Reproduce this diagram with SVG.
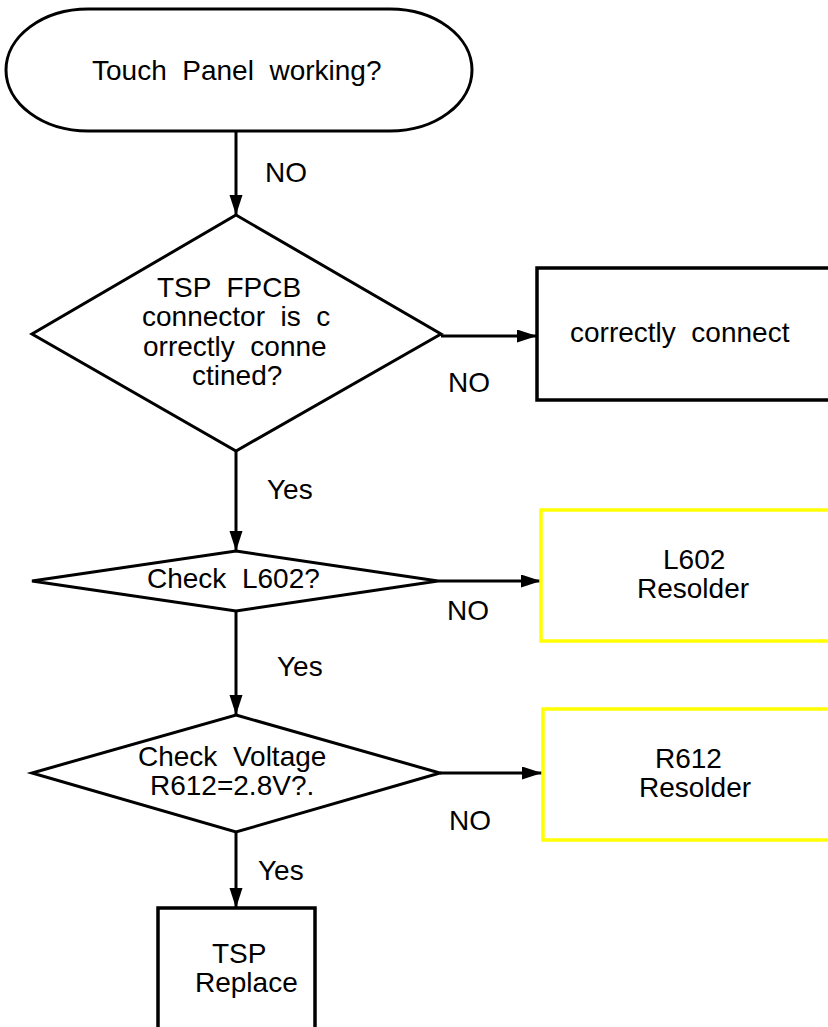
<svg xmlns="http://www.w3.org/2000/svg" width="828" height="1027" viewBox="0 0 828 1027">
<style>
  text { font-family: "Liberation Sans", Arial, sans-serif; font-size: 28px; fill: #000; white-space: pre; }
  .shape { fill: #fff; stroke: #000; stroke-width: 3; }
  .box { fill: #fff; stroke: #000; stroke-width: 3.5; }
  .ybox { fill: #fff; stroke: #ffff00; stroke-width: 3.5; }
  .conn { fill: none; stroke: #000; stroke-width: 3; marker-end: url(#arrow); }
</style>
<defs>
  <marker id="arrow" markerUnits="userSpaceOnUse" markerWidth="20" markerHeight="14" refX="20" refY="6.5" orient="auto">
    <path d="M0,0 L20,6.5 L0,13 z" fill="#000"/>
  </marker>
</defs>
<rect width="828" height="1027" fill="#fff"/>

<g id="connectors">
  <line class="conn" x1="236" y1="131" x2="236" y2="215"/>
  <line class="conn" x1="441" y1="336" x2="537" y2="336"/>
  <line class="conn" x1="236" y1="451" x2="236" y2="551"/>
  <line class="conn" x1="438" y1="581" x2="541" y2="581"/>
  <line class="conn" x1="236" y1="611" x2="236" y2="715"/>
  <line class="conn" x1="440" y1="773" x2="542" y2="773"/>
  <line class="conn" x1="236" y1="832" x2="236" y2="908"/>
  <text x="265" y="182" xml:space="preserve">NO</text>
  <text x="448" y="392" xml:space="preserve">NO</text>
  <text x="267" y="499" xml:space="preserve">Yes</text>
  <text x="447" y="620" xml:space="preserve">NO</text>
  <text x="277" y="676" xml:space="preserve">Yes</text>
  <text x="449" y="830" xml:space="preserve">NO</text>
  <text x="258" y="880" xml:space="preserve">Yes</text>
</g>

<g id="start">
  <rect class="shape" x="6" y="9" width="466" height="122" rx="82" ry="61"/>
  <text x="92" y="80" xml:space="preserve">Touch  Panel  working?</text>
</g>

<g id="check-connector">
  <polygon class="shape" points="236,215 441,334 236,451 32,334"/>
  <text x="157" y="297" xml:space="preserve">TSP  FPCB</text>
  <text x="142" y="326" xml:space="preserve">connector  is  c</text>
  <text x="143" y="356" xml:space="preserve">orrectly  conne</text>
  <text x="192" y="385" xml:space="preserve">ctined?</text>
</g>

<g id="correctly-connect">
  <rect class="box" x="537" y="268" width="320" height="132"/>
  <text x="570" y="342" xml:space="preserve">correctly  connect</text>
</g>

<g id="check-l602">
  <polygon class="shape" points="236,551 438,581 236,611 32,581"/>
  <text x="147" y="588" xml:space="preserve">Check  L602?</text>
</g>

<g id="l602-resolder">
  <rect class="ybox" x="541" y="510" width="320" height="131"/>
  <text x="663" y="569" xml:space="preserve">L602</text>
  <text x="637" y="598" xml:space="preserve">Resolder</text>
</g>

<g id="check-voltage">
  <polygon class="shape" points="236,715 440,773 236,832 32,773"/>
  <text x="138" y="766" xml:space="preserve">Check  Voltage</text>
  <text x="150" y="795" xml:space="preserve">R612=2.8V?.</text>
</g>

<g id="r612-resolder">
  <rect class="ybox" x="543" y="709" width="320" height="131"/>
  <text x="655" y="768" xml:space="preserve">R612</text>
  <text x="639" y="797" xml:space="preserve">Resolder</text>
</g>

<g id="tsp-replace">
  <rect class="box" x="158" y="908" width="157" height="160"/>
  <text x="212" y="963" xml:space="preserve">TSP</text>
  <text x="195" y="992" xml:space="preserve">Replace</text>
</g>
</svg>
